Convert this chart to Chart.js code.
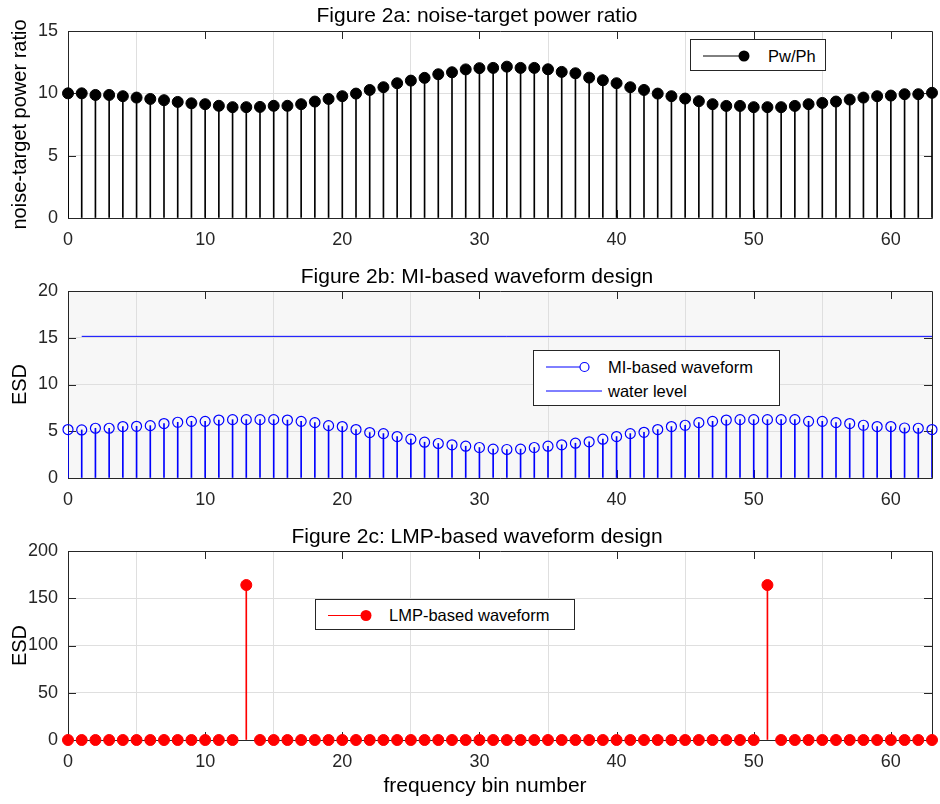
<!DOCTYPE html>
<html>
<head>
<meta charset="utf-8">
<script src="https://cdn.jsdelivr.net/npm/chart.js@4.4.1/dist/chart.umd.min.js"></script>
<style>
  body { margin: 0; background: #fff; font-family: "Liberation Sans", Arial, sans-serif; }
  #page { position: relative; width: 940px; height: 804px; overflow: hidden; }
  canvas { position: absolute; left: 0; }
  .title { position: absolute; left: 0; width: 954px; text-align: center; font-size: 21px; line-height: 24px; color: #000; white-space: nowrap; }
  .legend { position: absolute; background: #fff; border: 1px solid #262626; box-sizing: border-box; }
  .legend svg { position: absolute; left: 0; top: 0; }
  .legend span { position: absolute; font-size: 16.5px; color: #000; white-space: nowrap; line-height: 20px; }
</style>
</head>
<body>
<div id="page">
  <canvas id="chartA" width="940" height="262" style="top:0px"></canvas>
  <canvas id="chartB" width="940" height="258" style="top:262px"></canvas>
  <canvas id="chartC" width="940" height="284" style="top:520px"></canvas>

  <div class="title" style="top:3px;">Figure 2a: noise-target power ratio</div>
  <div class="title" style="top:264px;">Figure 2b: MI-based waveform design</div>
  <div class="title" style="top:524px;">Figure 2c: LMP-based waveform design</div>
  <div class="title" style="top:773px;width:970px;">frequency bin number</div>

  <div class="legend" style="left:690px;top:39px;width:136px;height:32px;">
    <svg width="136" height="32"><line x1="12" y1="16" x2="53" y2="16" stroke="#000" stroke-width="1"/><circle cx="53" cy="16" r="5.5" fill="#000"/></svg>
    <span style="left:77px;top:6px;">Pw/Ph</span>
  </div>
  <div class="legend" style="left:533px;top:350px;width:247px;height:56px;">
    <svg width="247" height="56"><line x1="12" y1="16" x2="46" y2="16" stroke="#0000ff" stroke-width="1"/><circle cx="50.5" cy="16" r="4.5" fill="none" stroke="#0000ff" stroke-width="1.2"/><line x1="12" y1="40" x2="68" y2="40" stroke="#0000ff" stroke-width="1"/></svg>
    <span style="left:74px;top:6px;">MI-based waveform</span>
    <span style="left:74px;top:30px;">water level</span>
  </div>
  <div class="legend" style="left:315px;top:599px;width:260px;height:31px;">
    <svg width="260" height="31"><line x1="12" y1="15.5" x2="50" y2="15.5" stroke="#ff0000" stroke-width="1"/><circle cx="50" cy="15.5" r="5.5" fill="#ff0000"/></svg>
    <span style="left:73px;top:5px;">LMP-based waveform</span>
  </div>
</div>

<script>
// frequency bins 0..63
const bins = [];
for (let i = 0; i < 64; i++) bins.push(i);

// Figure 2a: noise-target power ratio Pw/Ph
const ratio = [10.0, 10.0, 9.87, 9.87, 9.77, 9.66, 9.55, 9.45, 9.31, 9.2,
  9.13, 9.0, 8.89, 8.89, 8.91, 9.0, 9.0, 9.13, 9.34, 9.55,
  9.77, 9.98, 10.27, 10.49, 10.81, 11.02, 11.24, 11.53, 11.69, 11.92,
  12.02, 12.04, 12.14, 12.04, 12.04, 11.93, 11.72, 11.61, 11.26, 11.05,
  10.81, 10.49, 10.27, 9.98, 9.77, 9.58, 9.37, 9.13, 8.99, 8.99,
  8.89, 8.89, 8.89, 8.99, 9.13, 9.23, 9.34, 9.5, 9.66, 9.77,
  9.82, 9.93, 9.93, 10.04];

// Figure 2b: MI-based waveform ESD and water level
const miEsd = [5.18, 5.14, 5.32, 5.32, 5.5, 5.53, 5.6, 5.82, 5.96, 6.06,
  6.06, 6.2, 6.24, 6.24, 6.24, 6.24, 6.2, 6.06, 5.92, 5.6,
  5.5, 5.18, 4.86, 4.75, 4.43, 4.15, 3.83, 3.69, 3.55, 3.4,
  3.26, 3.09, 3.05, 3.09, 3.26, 3.4, 3.55, 3.72, 3.87, 4.15,
  4.43, 4.75, 4.89, 5.18, 5.5, 5.64, 5.92, 6.06, 6.2, 6.24,
  6.24, 6.24, 6.24, 6.24, 6.06, 6.06, 5.92, 5.82, 5.64, 5.5,
  5.5, 5.35, 5.32, 5.18];
const waterX = [1, 63];
const waterLevel = [15.15, 15.15];

// Figure 2c: LMP-based waveform ESD
const lmpEsd = [0, 0, 0, 0, 0, 0, 0, 0, 0, 0,
  0, 0, 0, 164, 0, 0, 0, 0, 0, 0,
  0, 0, 0, 0, 0, 0, 0, 0, 0, 0,
  0, 0, 0, 0, 0, 0, 0, 0, 0, 0,
  0, 0, 0, 0, 0, 0, 0, 0, 0, 0,
  0, 164, 0, 0, 0, 0, 0, 0, 0, 0,
  0, 0, 0, 0];

const xTicks = [0, 10, 20, 30, 40, 50, 60];
const yTicksA = [0, 5, 10, 15];
const yTicksB = [0, 5, 10, 15, 20];
const yTicksC = [0, 50, 100, 150, 200];

const FONT = '"Liberation Sans", Arial, sans-serif';
const AXIS = '#262626';
const GRID = '#dfdfdf';

function pts(xs, ys) {
  return xs.map((x, i) => ({ x: x, y: ys[i] }));
}

// matlab style box with inward ticks, optional grey background
const boxPlugin = {
  id: 'box',
  beforeDraw(chart, args, opts) {
    if (!opts.bg) return;
    const a = chart.chartArea;
    const ctx = chart.ctx;
    ctx.save();
    ctx.fillStyle = opts.bg;
    ctx.fillRect(a.left, a.top, a.right - a.left, a.bottom - a.top);
    ctx.restore();
  },
  beforeDatasetsDraw(chart) {
    const a = chart.chartArea;
    const ctx = chart.ctx;
    const xs = chart.scales.x, ys = chart.scales.y;
    ctx.save();
    ctx.strokeStyle = AXIS;
    ctx.lineWidth = 1;
    ctx.beginPath();
    ctx.rect(Math.round(a.left) + 0.5, Math.round(a.top) + 0.5, Math.round(a.right - a.left), Math.round(a.bottom - a.top));
    for (const t of xs.ticks) {
      const px = Math.round(xs.getPixelForValue(t.value)) + 0.5;
      ctx.moveTo(px, a.top); ctx.lineTo(px, a.top + 8);
      ctx.moveTo(px, a.bottom); ctx.lineTo(px, a.bottom - 8);
    }
    for (const t of ys.ticks) {
      const py = Math.round(ys.getPixelForValue(t.value)) + 0.5;
      ctx.moveTo(a.left, py); ctx.lineTo(a.left + 8, py);
      ctx.moveTo(a.right, py); ctx.lineTo(a.right - 8, py);
    }
    ctx.stroke();
    ctx.restore();
  }
};

function makeOptions(cfg) {
  return {
    responsive: false,
    animation: false,
    events: [],
    layout: { padding: { top: cfg.padTop, right: 8, left: 0, bottom: 0 } },
    plugins: {
      legend: { display: false },
      tooltip: { enabled: false },
      title: { display: false },
      box: { bg: cfg.bg }
    },
    scales: {
      x: {
        type: 'linear', min: 0, max: 63, offset: false,
        afterBuildTicks: s => { s.ticks = xTicks.map(v => ({ value: v })); },
        afterFit: s => { s.height = cfg.xHeight; },
        grid: { color: GRID, drawTicks: false },
        border: { display: false },
        ticks: { color: AXIS, padding: 11, maxRotation: 0, font: { family: FONT, size: 18 } }
      },
      y: {
        type: 'linear', min: cfg.yTicks[0], max: cfg.yTicks[cfg.yTicks.length - 1],
        afterBuildTicks: s => { s.ticks = cfg.yTicks.map(v => ({ value: v })); },
        afterFit: s => { s.width = 68; },
        grid: { color: GRID, drawTicks: false },
        border: { display: false },
        ticks: { color: AXIS, padding: 10, font: { family: FONT, size: 18 } },
        title: {
          display: true, text: cfg.yTitle, color: '#000',
          font: { family: FONT, size: 20 }, padding: { top: 8, bottom: 0 }
        }
      }
    }
  };
}

new Chart(document.getElementById('chartA'), {
  type: 'scatter',
  data: {
    datasets: [
      { type: 'bar', label: 'stems', data: pts(bins, ratio), backgroundColor: '#000', barThickness: 1, order: 2 },
      { type: 'scatter', label: 'Pw/Ph', data: pts(bins, ratio), pointRadius: 5.5, pointBackgroundColor: '#000', pointBorderColor: '#000', clip: false, order: 1 }
    ]
  },
  options: makeOptions({ yTitle: 'noise-target power ratio', yTicks: yTicksA, padTop: 31, xHeight: 44 }),
  plugins: [boxPlugin]
});

new Chart(document.getElementById('chartB'), {
  type: 'scatter',
  data: {
    datasets: [
      { type: 'bar', label: 'stems', data: pts(bins, miEsd), backgroundColor: '#0000ff', barThickness: 1, order: 3 },
      { type: 'scatter', label: 'MI-based waveform', data: pts(bins, miEsd), pointRadius: 5, pointBackgroundColor: 'rgba(0,0,0,0)', pointBorderColor: '#0000ff', pointBorderWidth: 1.2, clip: false, order: 1 },
      { type: 'line', label: 'water level', data: pts(waterX, waterLevel), borderColor: '#0000ff', borderWidth: 1, pointRadius: 0, order: 2 }
    ]
  },
  options: makeOptions({ yTitle: 'ESD', yTicks: yTicksB, padTop: 29, xHeight: 42, bg: '#f7f7f7' }),
  plugins: [boxPlugin]
});

new Chart(document.getElementById('chartC'), {
  type: 'scatter',
  data: {
    datasets: [
      { type: 'bar', label: 'stems', data: pts(bins, lmpEsd), backgroundColor: '#ff0000', barThickness: 1, order: 2 },
      { type: 'scatter', label: 'LMP-based waveform', data: pts(bins, lmpEsd), pointRadius: 5.5, pointBackgroundColor: '#ff0000', pointBorderColor: '#ff0000', clip: false, order: 1 }
    ]
  },
  options: makeOptions({ yTitle: 'ESD', yTicks: yTicksC, padTop: 31, xHeight: 64 }),
  plugins: [boxPlugin]
});
</script>
</body>
</html>
